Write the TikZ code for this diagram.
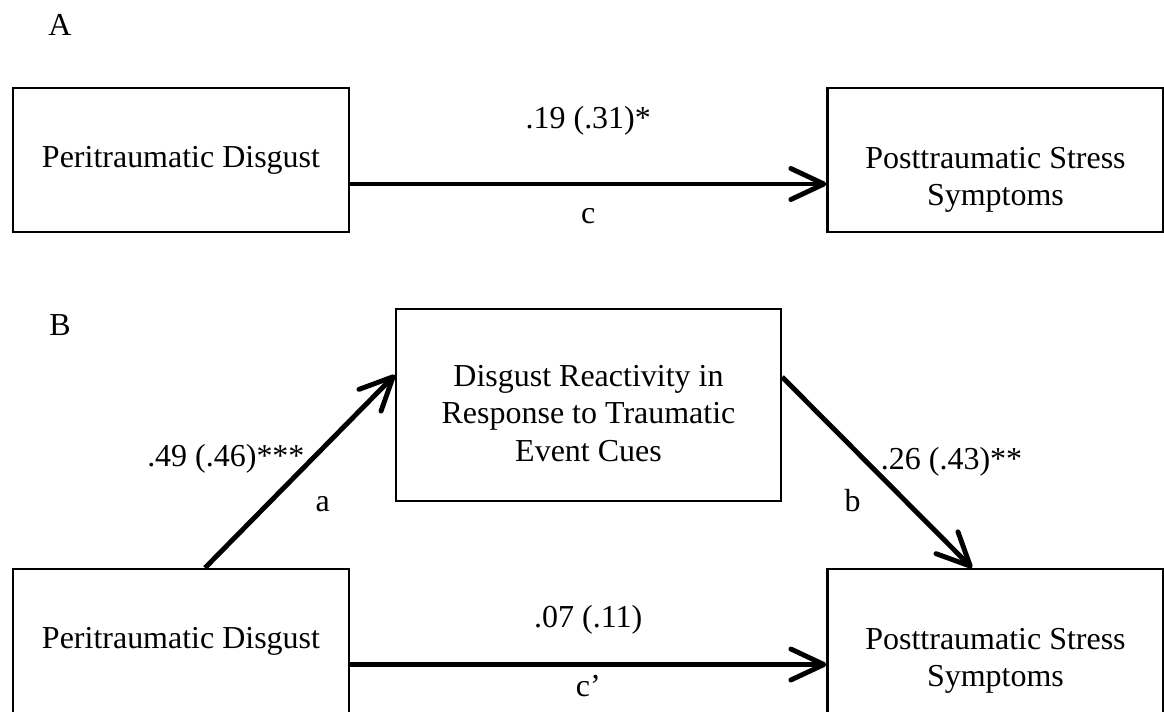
\documentclass[tikz,border=0pt]{standalone}
\usepackage{fontspec}
\setmainfont{Liberation Serif}
\usepackage{tikz}
\usetikzlibrary{positioning,arrows.meta,calc}

% invisible strut that lowers a block's text inside its fixed frame
\newcommand{\textdrop}[1]{\rule{0pt}{#1}}

\begin{document}
\begin{tikzpicture}[
    font=\fontsize{18.2}{21.2}\selectfont,
    varblock/.style={
        draw=black,
        line width=1.3pt,
        fill=white,
        align=center,
        inner sep=0pt,
        minimum width=6.72cm,
        minimum height=2.88cm
    },
    mediatorblock/.style={varblock, minimum width=7.70cm, minimum height=3.84cm},
    patharrow/.style={-{Straight Barb[length=6.6mm, width=6.2mm, round]}, line width=2.8pt, draw=black},
    coeflabel/.style={anchor=base, inner sep=0pt},
    panellabel/.style={anchor=base, inner sep=0pt}
]

% Fixed canvas so the page keeps the reference proportions.
\useasboundingbox (0,0) rectangle (23.28,-14.22);

% Panel A: total effect of peritraumatic disgust on PTSS.
\node[panellabel] (labelA) at (1.20,-0.70) {A};
\node[varblock] (periA) at (3.62,-3.20) {Peritraumatic Disgust};
\node[varblock] (ptsA) at (19.91,-3.20) {\textdrop{1.22cm}Posttraumatic Stress\\Symptoms};

% Panel B: mediation through disgust reactivity.
\node[panellabel] (labelB) at (1.20,-6.70) {B};
\node[mediatorblock] (react) at (11.77,-8.10) {\textdrop{0.76cm}Disgust Reactivity in\\Response to Traumatic\\Event Cues};
\node[varblock] (periB) at (3.62,-12.82) {Peritraumatic Disgust};
\node[varblock] (ptsB) at (19.91,-12.82) {\textdrop{1.22cm}Posttraumatic Stress\\Symptoms};

% Path c (total effect).
\draw[patharrow] ([yshift=-0.48cm]periA.east) -- ([yshift=-0.48cm]ptsA.west)
    node[coeflabel, midway, yshift=1.12cm] (coefc) {.19 (.31)*}
    node[coeflabel, midway, yshift=-0.78cm] (letc) {c};

% Path a: predictor to mediator.
\draw[patharrow] ([xshift=0.48cm]periB.north) -- ([yshift=0.60cm]react.west)
    node[coeflabel, pos=0.526, xshift=-1.58cm] (coefa) {.49 (.46)***}
    node[coeflabel, pos=0.294, xshift=1.24cm] (leta) {a};

% Path b: mediator to outcome.
\draw[patharrow] ([yshift=0.56cm]react.east) -- ([xshift=-0.47cm]ptsB.north)
    node[coeflabel, pos=0.484, xshift=1.55cm] (coefb) {.26 (.43)**}
    node[coeflabel, pos=0.703, xshift=-1.26cm] (letb) {b};

% Path c' (direct effect).
\draw[patharrow] ([yshift=-0.47cm]periB.east) -- ([yshift=-0.47cm]ptsB.west)
    node[coeflabel, midway, yshift=0.74cm] (coefcp) {.07 (.11)}
    node[coeflabel, midway, yshift=-0.64cm] (letcp) {c’};

\end{tikzpicture}
\end{document}
